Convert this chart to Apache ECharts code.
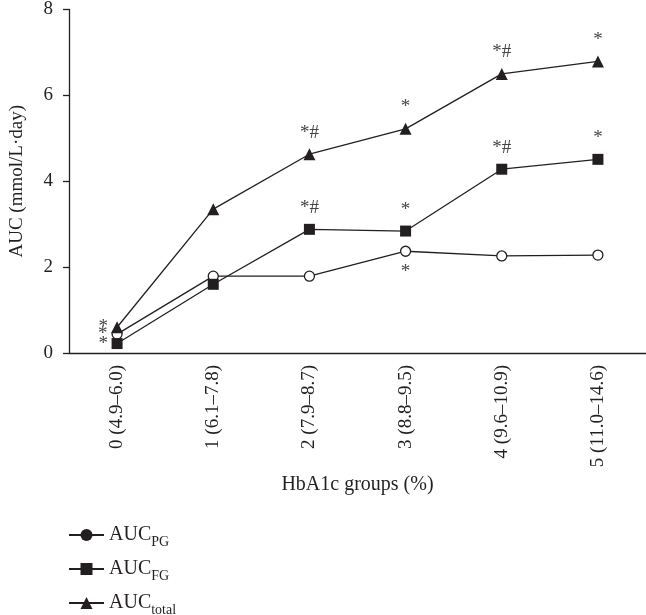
<!DOCTYPE html>
<html>
<head>
<meta charset="utf-8">
<script src="https://cdn.jsdelivr.net/npm/echarts@6/dist/echarts.min.js"></script>
<style>html,body{margin:0;padding:0;background:#fff}#c{width:646px;height:615px}</style>
</head>
<body>
<div id="c"></div>
<script>
const categories = ['0 (4.9\u20136.0)', '1 (6.1\u20137.8)', '2 (7.9\u20138.7)', '3 (8.8\u20139.5)', '4 (9.6\u201310.9)', '5 (11.0\u201314.6)'];
const aucPG = [0.44, 1.79, 1.79, 2.37, 2.26, 2.28];
const aucFG = [0.22, 1.6, 2.88, 2.84, 4.28, 4.51];
const aucTotal = [0.6, 3.35, 4.63, 5.22, 6.5, 6.79];
const marksPG = ['*', '', '', '*', '', ''];
const marksFG = ['*', '', '*#', '*', '*#', '*'];
const marksTotal = ['*', '', '*#', '*', '*#', '*'];
const yTicks = [0, 2, 4, 6, 8];

const INK = '#231f20';
const FONT = '"Liberation Serif", "DejaVu Serif", serif';

function buildData(values, marks, below, symSize) {
  return values.map((v, i) => {
    const m = marks[i];
    const item = { value: v };
    if (m) {
      item.label = {
        show: true,
        formatter: m,
        position: i === 0 ? 'left' : (below ? 'bottom' : 'top'),
        distance: i === 0 ? Math.max(1, 9 - symSize / 2) : 6,
        color: '#444',
        fontFamily: FONT,
        fontSize: 19
      };
    }
    return item;
  });
}

const chart = echarts.init(document.getElementById('c'), null, { renderer: 'canvas' });
chart.setOption({
  animation: false,
  textStyle: { fontFamily: FONT, color: INK },
  grid: { left: 62, top: 9, width: 588, height: 344, containLabel: false },
  legend: {
    orient: 'vertical',
    left: 63,
    top: 520,
    height: 200,
    itemWidth: 35,
    itemHeight: 15,
    itemGap: 10,
    itemStyle: { borderWidth: 0 },
    textStyle: {
      color: INK,
      fontFamily: FONT,
      rich: {
        a: { fontSize: 20, fontFamily: FONT, color: INK, verticalAlign: 'bottom' },
        s: { fontSize: 14, fontFamily: FONT, color: INK, verticalAlign: 'bottom', padding: [0, 0, -4, 0] }
      }
    },
    formatter: function (name) {
      const sub = { PG: 'PG', FG: 'FG', total: 'total' }[name];
      return '{a|AUC}{s|' + sub + '}';
    },
    data: [
      { name: 'PG', itemStyle: { color: INK, borderColor: INK } },
      { name: 'FG', itemStyle: { color: INK } },
      { name: 'total', itemStyle: { color: INK } }
    ]
  },
  xAxis: {
    type: 'category',
    data: categories,
    boundaryGap: true,
    name: 'HbA1c groups (%)',
    nameLocation: 'middle',
    nameGap: 110,
    nameTextStyle: { fontSize: 20, color: INK, fontFamily: FONT },
    axisLine: { lineStyle: { color: INK, width: 1.3 } },
    axisTick: { alignWithLabel: true, length: 6, lineStyle: { color: INK, width: 1.3 } },
    axisLabel: { rotate: 90, margin: 12, fontSize: 19, color: INK, fontFamily: FONT, interval: 0 },
    splitLine: { show: false }
  },
  yAxis: {
    type: 'value',
    min: yTicks[0],
    max: yTicks[yTicks.length - 1],
    interval: yTicks[1] - yTicks[0],
    name: 'AUC (mmol/L\u00b7day)',
    nameLocation: 'middle',
    nameGap: 42,
    nameRotate: 90,
    nameTextStyle: { fontSize: 19, color: INK, fontFamily: FONT },
    axisLine: { show: true, lineStyle: { color: INK, width: 1.3 } },
    axisTick: { show: true, length: 6, lineStyle: { color: INK, width: 1.3 } },
    axisLabel: { margin: 16, fontSize: 19, color: INK, fontFamily: FONT },
    splitLine: { show: false }
  },
  series: [
    {
      name: 'PG', type: 'line', data: buildData(aucPG, marksPG, true, 10),
      symbol: 'circle', symbolSize: 10, z: 3,
      lineStyle: { color: INK, width: 1.3 },
      itemStyle: { color: '#fff', borderColor: INK, borderWidth: 1.3 }
    },
    {
      name: 'FG', type: 'line', data: buildData(aucFG, marksFG, false, 11),
      symbol: 'rect', symbolSize: 11, z: 4,
      lineStyle: { color: INK, width: 1.3 },
      itemStyle: { color: INK }
    },
    {
      name: 'total', type: 'line', data: buildData(aucTotal, marksTotal, false, 12),
      symbol: 'triangle', symbolSize: 12, z: 5,
      lineStyle: { color: INK, width: 1.3 },
      itemStyle: { color: INK }
    }
  ]
});
</script>
</body>
</html>
